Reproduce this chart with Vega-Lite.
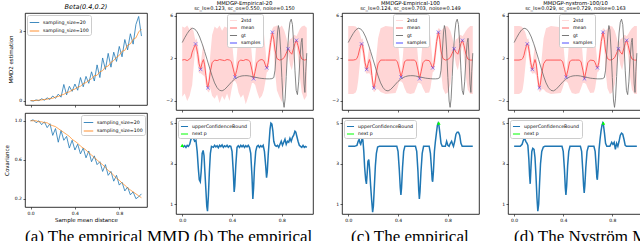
{
"$schema": "https://vega.github.io/schema/vega-lite/v6.json",
"padding": {"left": 3, "top": 0, "right": 0, "bottom": 0},
"background": "white",
"config": {
  "font": "DejaVu Sans",
  "view": {"stroke": "#000", "strokeWidth": 0.8},
  "axis": {"labelFont": "DejaVu Sans", "labelFontSize": 4.5, "titleFont": "DejaVu Sans", "titleFontSize": 5.5, "titleFontWeight": "normal", "tickSize": 2, "tickColor": "#000", "tickWidth": 0.6, "labelColor": "#000", "titleColor": "#000", "domain": false, "grid": false, "labelPadding": 1.5, "titlePadding": 3, "labelOverlap": false, "labelFlush": false, "labelSeparation": -40, "labelBound": false},
  "legend": {"labelFont": "DejaVu Sans", "labelFontSize": 4.7, "labelColor": "#000", "fillColor": "#fff", "strokeColor": "#cccccc", "padding": 2, "cornerRadius": 2, "rowPadding": 0.5, "symbolSize": 50, "labelLimit": 300, "symbolStrokeWidth": 1, "labelOffset": 3},
  "title": {"font": "DejaVu Sans", "fontSize": 5.3, "fontWeight": "normal", "color": "#000", "subtitleFont": "DejaVu Sans", "subtitleFontSize": 5.0, "subtitleColor": "#000", "subtitlePadding": 0.5, "offset": 1.5}
},
"datasets": {
  "mmd": [
    {"x":0.000,"a":0.00,"b":0.00},{"x":0.025,"a":-0.02,"b":0.00},{"x":0.050,"a":0.03,"b":0.01},{"x":0.075,"a":0.00,"b":0.02},
    {"x":0.100,"a":0.08,"b":0.03},{"x":0.125,"a":0.02,"b":0.05},{"x":0.150,"a":0.12,"b":0.06},{"x":0.175,"a":0.05,"b":0.10},
    {"x":0.200,"a":0.20,"b":0.10},{"x":0.225,"a":0.10,"b":0.16},{"x":0.250,"a":0.28,"b":0.18},{"x":0.275,"a":0.15,"b":0.24},
    {"x":0.300,"a":0.70,"b":0.27},{"x":0.325,"a":0.25,"b":0.35},{"x":0.350,"a":0.62,"b":0.38},{"x":0.375,"a":0.40,"b":0.46},
    {"x":0.400,"a":0.72,"b":0.50},{"x":0.425,"a":0.45,"b":0.58},{"x":0.450,"a":1.00,"b":0.62},{"x":0.475,"a":0.60,"b":0.74},
    {"x":0.500,"a":1.05,"b":0.78},{"x":0.525,"a":0.75,"b":0.88},{"x":0.550,"a":1.25,"b":0.94},{"x":0.575,"a":0.85,"b":1.08},
    {"x":0.600,"a":1.55,"b":1.10},{"x":0.625,"a":1.00,"b":1.25},{"x":0.650,"a":1.85,"b":1.30},{"x":0.675,"a":1.35,"b":1.46},
    {"x":0.700,"a":2.05,"b":1.50},{"x":0.725,"a":1.45,"b":1.66},{"x":0.750,"a":2.10,"b":1.74},{"x":0.775,"a":1.70,"b":1.88},
    {"x":0.800,"a":2.35,"b":1.96},{"x":0.825,"a":1.90,"b":2.14},{"x":0.850,"a":2.65,"b":2.18},{"x":0.875,"a":2.20,"b":2.40},
    {"x":0.900,"a":2.90,"b":2.46},{"x":0.925,"a":2.45,"b":2.66},{"x":0.950,"a":3.30,"b":2.72},{"x":0.975,"a":3.65,"b":2.98},
    {"x":1.000,"a":2.80,"b":3.10}
  ],
  "cov": [
    {"x":0.000,"a":1.00,"b":1.00},{"x":0.025,"a":1.01,"b":1.00},{"x":0.050,"a":0.98,"b":1.00},{"x":0.075,"a":1.00,"b":0.99},
    {"x":0.100,"a":0.96,"b":0.99},{"x":0.125,"a":0.99,"b":0.98},{"x":0.150,"a":0.93,"b":0.98},{"x":0.175,"a":0.97,"b":0.96},
    {"x":0.200,"a":0.85,"b":0.95},{"x":0.225,"a":0.92,"b":0.94},{"x":0.250,"a":0.78,"b":0.92},{"x":0.275,"a":0.90,"b":0.90},
    {"x":0.300,"a":0.80,"b":0.88},{"x":0.325,"a":0.84,"b":0.86},{"x":0.350,"a":0.72,"b":0.84},{"x":0.375,"a":0.80,"b":0.81},
    {"x":0.400,"a":0.70,"b":0.79},{"x":0.425,"a":0.76,"b":0.77},{"x":0.450,"a":0.66,"b":0.74},{"x":0.475,"a":0.72,"b":0.72},
    {"x":0.500,"a":0.62,"b":0.70},{"x":0.525,"a":0.69,"b":0.67},{"x":0.550,"a":0.58,"b":0.65},{"x":0.575,"a":0.64,"b":0.62},
    {"x":0.600,"a":0.55,"b":0.60},{"x":0.625,"a":0.58,"b":0.57},{"x":0.650,"a":0.48,"b":0.55},{"x":0.675,"a":0.55,"b":0.52},
    {"x":0.700,"a":0.44,"b":0.49},{"x":0.725,"a":0.48,"b":0.47},{"x":0.750,"a":0.38,"b":0.44},{"x":0.775,"a":0.44,"b":0.41},
    {"x":0.800,"a":0.34,"b":0.39},{"x":0.825,"a":0.37,"b":0.36},{"x":0.850,"a":0.28,"b":0.34},{"x":0.875,"a":0.32,"b":0.31},
    {"x":0.900,"a":0.24,"b":0.29},{"x":0.925,"a":0.27,"b":0.27},{"x":0.950,"a":0.20,"b":0.25},{"x":0.975,"a":0.22,"b":0.23},
    {"x":1.000,"a":0.25,"b":0.21}
  ],
  "gt": [
    {"x":0,"y":3.5},{"x":0.02,"y":3.95},{"x":0.04,"y":4.35},{"x":0.06,"y":4.68},{"x":0.08,"y":4.85},{"x":0.10,"y":4.78},
    {"x":0.12,"y":4.5},{"x":0.14,"y":4.02},{"x":0.16,"y":3.38},{"x":0.18,"y":2.65},{"x":0.20,"y":1.88},{"x":0.22,"y":1.1},
    {"x":0.24,"y":0.35},{"x":0.26,"y":-0.3},{"x":0.28,"y":-0.75},{"x":0.30,"y":-1.0},{"x":0.32,"y":-1.05},{"x":0.34,"y":-0.92},
    {"x":0.36,"y":-0.68},{"x":0.38,"y":-0.42},{"x":0.40,"y":-0.16},{"x":0.42,"y":0.05},{"x":0.44,"y":0.2},{"x":0.46,"y":0.3},
    {"x":0.48,"y":0.36},{"x":0.50,"y":0.38},{"x":0.52,"y":0.38},{"x":0.54,"y":0.35},{"x":0.56,"y":0.3},{"x":0.58,"y":0.25},
    {"x":0.60,"y":0.2},{"x":0.62,"y":0.15},{"x":0.64,"y":0.12},{"x":0.66,"y":0.1},{"x":0.68,"y":0.08},{"x":0.70,"y":0.08},
    {"x":0.72,"y":0.1},{"x":0.735,"y":0.2},{"x":0.745,"y":0.9},{"x":0.755,"y":2.6},{"x":0.765,"y":4.4},{"x":0.772,"y":5.1},
    {"x":0.78,"y":4.7},{"x":0.79,"y":2.8},{"x":0.80,"y":0.2},{"x":0.81,"y":-2.0},{"x":0.818,"y":-2.6},{"x":0.826,"y":-1.8},
    {"x":0.835,"y":0.3},{"x":0.845,"y":2.6},{"x":0.855,"y":4.4},{"x":0.865,"y":5.4},{"x":0.875,"y":5.7},{"x":0.885,"y":5.2},
    {"x":0.895,"y":3.4},{"x":0.905,"y":0.9},{"x":0.915,"y":-1.0},{"x":0.925,"y":-1.4},{"x":0.935,"y":-0.2},{"x":0.945,"y":2.0},
    {"x":0.955,"y":3.5},{"x":0.962,"y":3.9},{"x":0.97,"y":2.2},{"x":0.978,"y":-0.4},{"x":0.985,"y":-1.2},{"x":0.992,"y":0.8},
    {"x":1.0,"y":2.5}
  ],
  "samples": [
    {"x":0.107,"y":3.37},{"x":0.148,"y":0.97},{"x":0.206,"y":-0.76},{"x":0.424,"y":0.25},{"x":0.573,"y":0.09},
    {"x":0.679,"y":1.12},{"x":0.724,"y":4.47},{"x":0.85,"y":2.92},{"x":0.917,"y":3.71}
  ],
  "gp_b": [
    {"x":0.00,"mean":1.85,"lo":-1.6,"hi":5.0},{"x":0.02,"mean":1.9,"lo":-1.3,"hi":4.9},{"x":0.04,"mean":1.8,"lo":-2.0,"hi":5.1},
    {"x":0.06,"mean":1.95,"lo":-1.5,"hi":4.7},{"x":0.07,"mean":2.1,"lo":-1.0,"hi":5.0},{"x":0.08,"mean":2.6,"lo":-0.5,"hi":4.8},
    {"x":0.09,"mean":2.9,"lo":1.0,"hi":4.6},{"x":0.10,"mean":3.2,"lo":2.3,"hi":4.0},{"x":0.107,"mean":3.3,"lo":2.9,"hi":3.7},
    {"x":0.115,"mean":3.0,"lo":2.2,"hi":3.9},{"x":0.125,"mean":2.4,"lo":1.3,"hi":3.4},{"x":0.135,"mean":1.5,"lo":0.6,"hi":2.4},
    {"x":0.148,"mean":1.0,"lo":0.6,"hi":1.4},{"x":0.16,"mean":1.6,"lo":0.5,"hi":2.6},{"x":0.17,"mean":1.9,"lo":0.4,"hi":3.3},
    {"x":0.18,"mean":1.4,"lo":0.3,"hi":2.5},{"x":0.19,"mean":0.4,"lo":-0.5,"hi":1.2},{"x":0.20,"mean":-0.5,"lo":-1.0,"hi":0.1},
    {"x":0.206,"mean":-0.7,"lo":-1.1,"hi":-0.3},{"x":0.215,"mean":-0.2,"lo":-1.2,"hi":0.7},{"x":0.225,"mean":0.7,"lo":-0.8,"hi":2.3},
    {"x":0.24,"mean":1.6,"lo":-1.5,"hi":4.2},{"x":0.26,"mean":1.85,"lo":-1.8,"hi":5.0},{"x":0.28,"mean":1.8,"lo":-1.4,"hi":4.8},
    {"x":0.30,"mean":1.9,"lo":-2.2,"hi":5.1},{"x":0.32,"mean":1.85,"lo":-1.5,"hi":4.6},{"x":0.34,"mean":1.8,"lo":-1.9,"hi":5.0},
    {"x":0.36,"mean":1.9,"lo":-1.3,"hi":4.9},{"x":0.38,"mean":1.85,"lo":-2.0,"hi":5.1},{"x":0.395,"mean":1.7,"lo":-1.0,"hi":4.2},
    {"x":0.41,"mean":1.0,"lo":-0.2,"hi":2.3},{"x":0.424,"mean":0.3,"lo":-0.1,"hi":0.7},{"x":0.438,"mean":0.9,"lo":-0.4,"hi":2.2},
    {"x":0.452,"mean":1.7,"lo":-1.2,"hi":4.4},{"x":0.47,"mean":1.85,"lo":-1.7,"hi":5.0},{"x":0.49,"mean":1.8,"lo":-1.4,"hi":4.8},
    {"x":0.51,"mean":1.9,"lo":-2.3,"hi":5.1},{"x":0.53,"mean":1.85,"lo":-1.6,"hi":4.9},{"x":0.545,"mean":1.7,"lo":-1.0,"hi":4.2},
    {"x":0.56,"mean":0.9,"lo":-0.3,"hi":2.2},{"x":0.573,"mean":0.1,"lo":-0.3,"hi":0.5},{"x":0.586,"mean":0.8,"lo":-0.5,"hi":2.0},
    {"x":0.60,"mean":1.6,"lo":-1.1,"hi":4.3},{"x":0.62,"mean":1.85,"lo":-1.8,"hi":5.0},{"x":0.64,"mean":1.9,"lo":-1.5,"hi":4.8},
    {"x":0.655,"mean":1.8,"lo":-1.0,"hi":4.5},{"x":0.667,"mean":1.4,"lo":-0.2,"hi":3.0},{"x":0.679,"mean":1.1,"lo":0.7,"hi":1.5},
    {"x":0.69,"mean":1.6,"lo":0.8,"hi":2.5},{"x":0.70,"mean":2.6,"lo":1.6,"hi":3.6},{"x":0.71,"mean":3.5,"lo":2.6,"hi":4.4},
    {"x":0.724,"mean":4.4,"lo":4.0,"hi":4.8},{"x":0.735,"mean":3.8,"lo":2.6,"hi":5.0},{"x":0.745,"mean":2.8,"lo":0.8,"hi":5.0},
    {"x":0.76,"mean":2.0,"lo":-1.0,"hi":5.1},{"x":0.78,"mean":1.85,"lo":-1.6,"hi":4.9},{"x":0.80,"mean":1.9,"lo":-2.1,"hi":5.1},
    {"x":0.82,"mean":2.1,"lo":-0.6,"hi":4.6},{"x":0.835,"mean":2.5,"lo":1.0,"hi":4.0},{"x":0.85,"mean":2.9,"lo":2.5,"hi":3.3},
    {"x":0.865,"mean":2.6,"lo":1.4,"hi":3.8},{"x":0.88,"mean":2.4,"lo":0.9,"hi":3.9},{"x":0.895,"mean":3.0,"lo":1.8,"hi":4.2},
    {"x":0.905,"mean":3.4,"lo":2.6,"hi":4.2},{"x":0.917,"mean":3.7,"lo":3.3,"hi":4.1},{"x":0.93,"mean":3.2,"lo":2.1,"hi":4.4},
    {"x":0.945,"mean":2.4,"lo":0.2,"hi":4.8},{"x":0.96,"mean":1.95,"lo":-1.2,"hi":5.0},{"x":0.98,"mean":1.85,"lo":-1.9,"hi":5.1},
    {"x":1.0,"mean":1.9,"lo":-1.5,"hi":4.9}
  ],
  "gp_c": [
    {"x":0,"mean":1.85,"lo":-1.35,"hi":5.05},{"x":0.04,"mean":1.85,"lo":-1.35,"hi":5.05},{"x":0.06,"mean":1.9,"lo":-1.2,"hi":5.0},
    {"x":0.07,"mean":2.0,"lo":-0.9,"hi":4.9},{"x":0.08,"mean":2.3,"lo":-0.1,"hi":4.7},{"x":0.09,"mean":2.8,"lo":1.1,"hi":4.5},
    {"x":0.10,"mean":3.2,"lo":2.3,"hi":4.1},{"x":0.107,"mean":3.38,"lo":2.98,"hi":3.78},{"x":0.115,"mean":3.2,"lo":2.5,"hi":3.9},
    {"x":0.125,"mean":2.5,"lo":1.6,"hi":3.4},{"x":0.135,"mean":1.6,"lo":0.8,"hi":2.4},{"x":0.148,"mean":0.97,"lo":0.57,"hi":1.37},
    {"x":0.16,"mean":1.5,"lo":0.6,"hi":2.4},{"x":0.17,"mean":1.9,"lo":0.6,"hi":3.2},{"x":0.18,"mean":1.5,"lo":0.4,"hi":2.6},
    {"x":0.19,"mean":0.4,"lo":-0.4,"hi":1.2},{"x":0.20,"mean":-0.5,"lo":-1.0,"hi":0.0},{"x":0.206,"mean":-0.76,"lo":-1.16,"hi":-0.36},
    {"x":0.215,"mean":-0.3,"lo":-1.1,"hi":0.5},{"x":0.225,"mean":0.6,"lo":-0.9,"hi":2.1},{"x":0.24,"mean":1.5,"lo":-0.9,"hi":3.9},
    {"x":0.26,"mean":1.85,"lo":-1.15,"hi":4.85},{"x":0.30,"mean":1.85,"lo":-1.35,"hi":5.05},{"x":0.38,"mean":1.85,"lo":-1.25,"hi":4.95},
    {"x":0.395,"mean":1.7,"lo":-0.8,"hi":4.2},{"x":0.41,"mean":1.0,"lo":-0.2,"hi":2.2},{"x":0.424,"mean":0.26,"lo":-0.14,"hi":0.66},
    {"x":0.438,"mean":0.9,"lo":-0.3,"hi":2.1},{"x":0.452,"mean":1.7,"lo":-0.8,"hi":4.2},{"x":0.47,"mean":1.85,"lo":-1.25,"hi":4.95},
    {"x":0.50,"mean":1.85,"lo":-1.35,"hi":5.05},{"x":0.53,"mean":1.85,"lo":-1.25,"hi":4.95},{"x":0.545,"mean":1.7,"lo":-0.8,"hi":4.2},
    {"x":0.56,"mean":0.9,"lo":-0.3,"hi":2.1},{"x":0.573,"mean":0.1,"lo":-0.3,"hi":0.5},{"x":0.586,"mean":0.8,"lo":-0.4,"hi":2.0},
    {"x":0.60,"mean":1.6,"lo":-0.8,"hi":4.0},{"x":0.62,"mean":1.85,"lo":-1.25,"hi":4.95},{"x":0.65,"mean":1.8,"lo":-1.2,"hi":4.8},
    {"x":0.66,"mean":1.6,"lo":-0.8,"hi":4.0},{"x":0.67,"mean":1.3,"lo":0.0,"hi":2.6},{"x":0.679,"mean":1.12,"lo":0.72,"hi":1.52},
    {"x":0.69,"mean":1.6,"lo":0.8,"hi":2.4},{"x":0.70,"mean":2.6,"lo":1.7,"hi":3.5},{"x":0.71,"mean":3.6,"lo":2.8,"hi":4.4},
    {"x":0.724,"mean":4.45,"lo":4.05,"hi":4.85},{"x":0.735,"mean":3.8,"lo":2.8,"hi":4.8},{"x":0.745,"mean":2.7,"lo":0.8,"hi":4.6},
    {"x":0.76,"mean":2.0,"lo":-0.8,"hi":4.8},{"x":0.78,"mean":1.85,"lo":-1.35,"hi":5.05},{"x":0.80,"mean":1.9,"lo":-1.2,"hi":5.0},
    {"x":0.82,"mean":2.1,"lo":-0.4,"hi":4.6},{"x":0.835,"mean":2.5,"lo":1.0,"hi":4.0},{"x":0.85,"mean":2.9,"lo":2.5,"hi":3.3},
    {"x":0.865,"mean":2.6,"lo":1.4,"hi":3.8},{"x":0.88,"mean":2.4,"lo":0.9,"hi":3.9},{"x":0.895,"mean":3.0,"lo":1.8,"hi":4.2},
    {"x":0.905,"mean":3.4,"lo":2.6,"hi":4.2},{"x":0.917,"mean":3.7,"lo":3.3,"hi":4.1},{"x":0.93,"mean":3.2,"lo":2.1,"hi":4.3},
    {"x":0.945,"mean":2.4,"lo":0.2,"hi":4.6},{"x":0.96,"mean":1.95,"lo":-0.95,"hi":4.85},{"x":0.98,"mean":1.85,"lo":-1.35,"hi":5.05},
    {"x":1.0,"mean":1.85,"lo":-1.35,"hi":5.05}
  ],
  "ucb_b": [
    {"x":0.00,"v":3.9},{"x":0.01,"v":3.82},{"x":0.02,"v":3.88},{"x":0.03,"v":3.8},{"x":0.04,"v":3.9},{"x":0.05,"v":3.85},
    {"x":0.06,"v":3.95},{"x":0.07,"v":4.2},{"x":0.08,"v":4.3},{"x":0.09,"v":4.25},{"x":0.10,"v":4.1},{"x":0.11,"v":4.15},
    {"x":0.12,"v":3.6},{"x":0.13,"v":2.7},{"x":0.137,"v":2.2},{"x":0.145,"v":2.1},{"x":0.152,"v":2.6},{"x":0.16,"v":3.5},
    {"x":0.168,"v":3.65},{"x":0.175,"v":3.4},{"x":0.182,"v":2.6},{"x":0.19,"v":1.7},{"x":0.197,"v":0.9},{"x":0.203,"v":0.65},
    {"x":0.21,"v":1.4},{"x":0.218,"v":2.6},{"x":0.226,"v":3.5},{"x":0.235,"v":3.85},{"x":0.25,"v":3.8},{"x":0.26,"v":3.9},
    {"x":0.27,"v":3.82},{"x":0.28,"v":3.88},{"x":0.29,"v":3.78},{"x":0.30,"v":3.9},{"x":0.31,"v":3.84},{"x":0.32,"v":3.92},
    {"x":0.33,"v":3.8},{"x":0.34,"v":3.88},{"x":0.35,"v":3.83},{"x":0.36,"v":3.9},{"x":0.37,"v":3.8},{"x":0.38,"v":3.87},
    {"x":0.39,"v":3.85},{"x":0.40,"v":3.6},{"x":0.41,"v":2.6},{"x":0.417,"v":1.6},{"x":0.422,"v":1.9},{"x":0.43,"v":2.9},
    {"x":0.44,"v":3.8},{"x":0.45,"v":3.88},{"x":0.46,"v":3.8},{"x":0.47,"v":3.9},{"x":0.48,"v":3.83},{"x":0.49,"v":3.9},
    {"x":0.50,"v":3.8},{"x":0.51,"v":3.88},{"x":0.52,"v":3.82},{"x":0.53,"v":3.9},{"x":0.54,"v":3.8},{"x":0.55,"v":3.5},
    {"x":0.56,"v":2.4},{"x":0.567,"v":1.25},{"x":0.573,"v":1.8},{"x":0.58,"v":2.8},{"x":0.59,"v":3.6},{"x":0.60,"v":3.85},
    {"x":0.61,"v":3.9},{"x":0.62,"v":3.8},{"x":0.63,"v":3.88},{"x":0.64,"v":3.82},{"x":0.65,"v":3.9},{"x":0.66,"v":3.6},
    {"x":0.67,"v":2.9},{"x":0.677,"v":2.3},{"x":0.683,"v":2.6},{"x":0.69,"v":3.4},{"x":0.698,"v":4.1},{"x":0.705,"v":4.7},
    {"x":0.712,"v":5.0},{"x":0.72,"v":4.95},{"x":0.728,"v":4.6},{"x":0.735,"v":4.1},{"x":0.745,"v":3.9},{"x":0.755,"v":3.85},
    {"x":0.765,"v":3.9},{"x":0.775,"v":3.8},{"x":0.785,"v":3.95},{"x":0.795,"v":4.1},{"x":0.805,"v":3.9},{"x":0.815,"v":4.05},
    {"x":0.825,"v":4.2},{"x":0.835,"v":3.95},{"x":0.845,"v":4.1},{"x":0.855,"v":4.05},{"x":0.865,"v":4.25},{"x":0.875,"v":4.1},
    {"x":0.885,"v":4.3},{"x":0.895,"v":4.4},{"x":0.905,"v":4.6},{"x":0.912,"v":4.55},{"x":0.92,"v":4.35},{"x":0.93,"v":4.1},
    {"x":0.94,"v":3.9},{"x":0.95,"v":3.85},{"x":0.96,"v":3.8},{"x":0.97,"v":3.9},{"x":0.98,"v":3.8},{"x":0.99,"v":3.85},
    {"x":1.00,"v":3.8}
  ],
  "ucb_c": [
    {"x":0.00,"v":3.85},{"x":0.05,"v":3.85},{"x":0.07,"v":3.9},{"x":0.08,"v":4.1},{"x":0.088,"v":4.2},{"x":0.095,"v":4.0},
    {"x":0.10,"v":3.95},{"x":0.107,"v":4.1},{"x":0.112,"v":4.3},{"x":0.118,"v":4.15},{"x":0.125,"v":3.6},{"x":0.132,"v":2.8},
    {"x":0.14,"v":2.2},{"x":0.146,"v":2.0},{"x":0.152,"v":2.5},{"x":0.158,"v":3.1},{"x":0.165,"v":3.2},{"x":0.172,"v":2.7},
    {"x":0.18,"v":1.9},{"x":0.188,"v":1.2},{"x":0.196,"v":0.6},{"x":0.202,"v":0.9},{"x":0.21,"v":1.9},{"x":0.218,"v":2.9},
    {"x":0.226,"v":3.5},{"x":0.236,"v":3.82},{"x":0.25,"v":3.85},{"x":0.39,"v":3.85},{"x":0.40,"v":3.6},{"x":0.41,"v":2.7},
    {"x":0.418,"v":1.8},{"x":0.423,"v":1.45},{"x":0.428,"v":1.8},{"x":0.436,"v":2.8},{"x":0.445,"v":3.6},{"x":0.455,"v":3.85},
    {"x":0.54,"v":3.85},{"x":0.55,"v":3.6},{"x":0.56,"v":2.6},{"x":0.566,"v":1.7},{"x":0.571,"v":1.25},{"x":0.576,"v":1.6},
    {"x":0.584,"v":2.6},{"x":0.594,"v":3.5},{"x":0.605,"v":3.85},{"x":0.65,"v":3.85},{"x":0.66,"v":3.5},{"x":0.668,"v":2.8},
    {"x":0.674,"v":2.2},{"x":0.678,"v":2.1},{"x":0.684,"v":2.6},{"x":0.692,"v":3.6},{"x":0.70,"v":4.1},{"x":0.708,"v":4.5},
    {"x":0.716,"v":4.9},{"x":0.722,"v":5.0},{"x":0.728,"v":4.9},{"x":0.736,"v":4.5},{"x":0.745,"v":4.0},{"x":0.755,"v":3.85},
    {"x":0.78,"v":3.85},{"x":0.79,"v":4.1},{"x":0.80,"v":3.9},{"x":0.81,"v":3.85},{"x":0.82,"v":4.0},{"x":0.83,"v":4.1},
    {"x":0.838,"v":3.95},{"x":0.845,"v":3.85},{"x":0.855,"v":4.1},{"x":0.865,"v":4.45},{"x":0.875,"v":4.55},{"x":0.885,"v":4.55},
    {"x":0.895,"v":4.4},{"x":0.905,"v":4.0},{"x":0.915,"v":3.85},{"x":1.0,"v":3.85}
  ],
  "ucb_d": [
    {"x":0.00,"v":3.85},{"x":0.05,"v":3.85},{"x":0.065,"v":3.95},{"x":0.075,"v":4.15},{"x":0.085,"v":4.25},{"x":0.095,"v":4.1},
    {"x":0.105,"v":4.0},{"x":0.112,"v":3.9},{"x":0.12,"v":3.2},{"x":0.126,"v":2.4},{"x":0.131,"v":2.0},{"x":0.137,"v":2.8},
    {"x":0.144,"v":3.6},{"x":0.152,"v":3.75},{"x":0.162,"v":3.7},{"x":0.17,"v":3.3},{"x":0.178,"v":2.4},{"x":0.186,"v":1.3},
    {"x":0.193,"v":0.65},{"x":0.2,"v":1.0},{"x":0.207,"v":2.0},{"x":0.215,"v":3.0},{"x":0.225,"v":3.6},{"x":0.238,"v":3.82},
    {"x":0.25,"v":3.85},{"x":0.39,"v":3.85},{"x":0.40,"v":3.6},{"x":0.41,"v":2.7},{"x":0.417,"v":1.8},{"x":0.422,"v":1.45},
    {"x":0.428,"v":1.9},{"x":0.436,"v":2.9},{"x":0.445,"v":3.6},{"x":0.455,"v":3.85},{"x":0.54,"v":3.85},{"x":0.55,"v":3.6},
    {"x":0.56,"v":2.6},{"x":0.566,"v":1.9},{"x":0.571,"v":1.55},{"x":0.576,"v":1.9},{"x":0.584,"v":2.8},{"x":0.594,"v":3.6},
    {"x":0.605,"v":3.85},{"x":0.65,"v":3.85},{"x":0.66,"v":3.6},{"x":0.668,"v":2.9},{"x":0.674,"v":2.3},{"x":0.678,"v":2.2},
    {"x":0.684,"v":2.7},{"x":0.692,"v":3.7},{"x":0.70,"v":4.2},{"x":0.708,"v":4.6},{"x":0.716,"v":4.9},{"x":0.722,"v":5.0},
    {"x":0.728,"v":4.9},{"x":0.736,"v":4.5},{"x":0.745,"v":4.0},{"x":0.755,"v":3.85},{"x":0.78,"v":3.85},{"x":0.795,"v":4.05},
    {"x":0.805,"v":3.95},{"x":0.815,"v":4.05},{"x":0.825,"v":3.7},{"x":0.835,"v":4.0},{"x":0.845,"v":3.85},{"x":0.855,"v":4.1},
    {"x":0.865,"v":4.4},{"x":0.875,"v":4.5},{"x":0.885,"v":4.45},{"x":0.895,"v":4.2},{"x":0.905,"v":3.9},{"x":0.915,"v":3.85},
    {"x":1.0,"v":3.85}
  ],
  "captions": [
    {"k": "a", "cap": "(a) The empirical MMD (b) The empirical"},
    {"k": "c", "cap": "(c) The empirical"},
    {"k": "d", "cap": "(d) The Nyström MMD"}
  ]
},
"vconcat": [
 {
 "hconcat": [
  {
    "vconcat": [
      {
        "width": 122, "height": 92,
        "title": {"text": "Beta(0.4,0.2)", "fontStyle": "italic", "fontSize": 6.5, "offset": 3},
        "data": {"name": "mmd"},
        "layer": [
          {"mark": {"type": "line", "strokeWidth": 0.8, "clip": true},
           "encoding": {
             "x": {"field": "x", "type": "quantitative", "title": null, "scale": {"domain": [-0.05, 1.05], "nice": false, "zero": false}, "axis": {"values": [0, 0.2, 0.4, 0.6, 0.8, 1.0], "labels": false}},
             "y": {"field": "a", "type": "quantitative", "title": "MMD2 estimation", "scale": {"domain": [-0.19, 3.8], "nice": false, "zero": false}, "axis": {"values": [0, 1, 2, 3], "titlePadding": 5, "labelOverlap": false}},
             "color": {"datum": "sampling_size=20", "type": "nominal", "scale": {"domain": ["sampling_size=20", "sampling_size=100"], "range": ["#1f77b4", "#ff7f0e"]},
                       "legend": {"orient": "top-left", "offset": 2, "title": null, "symbolType": "stroke", "symbolSize": 90}}
           }},
          {"mark": {"type": "line", "strokeWidth": 0.8, "clip": true, "opacity": 0.85},
           "encoding": {
             "x": {"field": "x", "type": "quantitative", "title": null},
             "y": {"field": "b", "type": "quantitative", "title": "MMD2 estimation"},
             "color": {"datum": "sampling_size=100", "type": "nominal"}
           }}
        ]
      },
      {
        "width": 122, "height": 94,
        "data": {"name": "cov"},
        "layer": [
          {"mark": {"type": "line", "strokeWidth": 0.8, "clip": true},
           "encoding": {
             "x": {"field": "x", "type": "quantitative", "title": "Sample mean distance", "scale": {"domain": [-0.05, 1.05], "nice": false, "zero": false}, "axis": {"values": [0, 0.2, 0.4, 0.6, 0.8, 1.0], "format": ".1f", "titlePadding": 2, "labelOverlap": false, "labelFlush": false, "labelSeparation": -40}},
             "y": {"field": "a", "type": "quantitative", "title": "Covariance", "scale": {"domain": [0.115, 1.08], "nice": false, "zero": false}, "axis": {"values": [0.2, 0.4, 0.6, 0.8, 1.0], "format": ".1f", "titlePadding": 5, "labelOverlap": false}},
             "color": {"datum": "sampling_size=20", "type": "nominal", "scale": {"domain": ["sampling_size=20", "sampling_size=100"], "range": ["#1f77b4", "#ff7f0e"]},
                       "legend": {"orient": "top-right", "offset": 2, "title": null, "symbolType": "stroke", "symbolSize": 90}}
           }},
          {"mark": {"type": "line", "strokeWidth": 0.8, "clip": true, "opacity": 0.85},
           "encoding": {
             "x": {"field": "x", "type": "quantitative", "title": "Sample mean distance"},
             "y": {"field": "b", "type": "quantitative", "title": "Covariance"},
             "color": {"datum": "sampling_size=100", "type": "nominal"}
           }}
        ]
      }
    ],
    "spacing": 8, "bounds": "flush",
    "resolve": {"scale": {"color": "independent", "x": "independent", "y": "independent"}, "legend": {"color": "independent"}}
  },
  {
    "vconcat": [
      {
        "width": 137, "height": 97,
        "title": {"text": "MMDGP-Empirical-20", "subtitle": "sc_ls=0.123, sc_os=0.550, noise=0.150"},
        "layer": [
          {"data": {"name": "gp_b"}, "mark": {"type": "area", "clip": true},
           "encoding": {
             "x": {"field": "x", "type": "quantitative", "title": null, "scale": {"domain": [-0.05, 1.05], "nice": false, "zero": false}, "axis": {"values": [0, 0.2, 0.4, 0.6, 0.8, 1.0], "labels": false}},
             "y": {"field": "lo", "type": "quantitative", "title": null, "scale": {"domain": [-2.85, 6.28], "nice": false, "zero": false}, "axis": {"values": [-2, 0, 2, 4, 6], "labelOverlap": false}},
             "y2": {"field": "hi"},
             "color": {"datum": "2std", "type": "nominal", "scale": {"domain": ["2std", "mean", "gt", "samples"], "range": ["#ffd6d6", "#ff5a5a", "#6a6a6a", "#3c3cff"]},
               "legend": {"orient": "none", "legendX": 51, "legendY": 1, "title": null, "symbolType": "stroke"}}
           }},
          {"data": {"name": "gp_b"}, "mark": {"type": "line", "strokeWidth": 1, "clip": true},
           "encoding": {"x": {"field": "x", "type": "quantitative", "title": null}, "y": {"field": "mean", "type": "quantitative", "title": null}, "color": {"datum": "mean", "type": "nominal"}}},
          {"data": {"name": "gt"}, "mark": {"type": "line", "strokeWidth": 0.9, "clip": true, "opacity": 0.9},
           "encoding": {"x": {"field": "x", "type": "quantitative", "title": null}, "y": {"field": "y", "type": "quantitative", "title": null}, "color": {"datum": "gt", "type": "nominal"}}},
          {"data": {"name": "samples"}, "mark": {"type": "point", "shape": "M-1,-1L1,1M-1,1L1,-1", "filled": false, "size": 12, "strokeWidth": 0.8},
           "encoding": {"x": {"field": "x", "type": "quantitative", "title": null}, "y": {"field": "y", "type": "quantitative", "title": null}, "color": {"datum": "samples", "type": "nominal"}}}
        ]
      },
      {
        "width": 137, "height": 96,
        "layer": [
          {"data": {"name": "ucb_b"}, "mark": {"type": "line", "strokeWidth": 1.5, "clip": true},
           "encoding": {
             "x": {"field": "x", "type": "quantitative", "title": null, "scale": {"domain": [-0.05, 1.05], "nice": false, "zero": false}, "axis": {"values": [0, 0.2, 0.4, 0.6, 0.8, 1.0], "format": ".1f", "labelOverlap": false, "labelFlush": false, "labelSeparation": -40}},
             "y": {"field": "v", "type": "quantitative", "title": null, "scale": {"domain": [0.51, 5.25], "nice": false, "zero": false}, "axis": {"values": [1, 2, 3, 4, 5], "labelOverlap": false}},
             "color": {"datum": "upperConfidenceBound", "type": "nominal", "scale": {"domain": ["upperConfidenceBound", "next p"], "range": ["#1f77b4", "#00ff00"]},
               "legend": {"orient": "top-left", "offset": 2, "title": null, "symbolType": "stroke"}}
           }},
          {"data": {"values": [{"x": 0.0, "v": 3.9}]}, "mark": {"type": "point", "shape": "triangle-up", "filled": true, "size": 14, "opacity": 1},
           "encoding": {"x": {"field": "x", "type": "quantitative", "title": null}, "y": {"field": "v", "type": "quantitative", "title": null}, "color": {"datum": "next p", "type": "nominal"}}}
        ]
      }
    ],
    "spacing": 8, "bounds": "flush",
    "resolve": {"scale": {"color": "independent", "x": "independent", "y": "independent"}, "legend": {"color": "independent"}}
  },
  {
    "vconcat": [
      {
        "width": 137, "height": 97,
        "title": {"text": "MMDGP-Empirical-100", "subtitle": "sc_ls=0.124, sc_os=0.703, noise=0.149"},
        "layer": [
          {"data": {"name": "gp_c"}, "mark": {"type": "area", "clip": true},
           "encoding": {
             "x": {"field": "x", "type": "quantitative", "title": null, "scale": {"domain": [-0.05, 1.05], "nice": false, "zero": false}, "axis": {"values": [0, 0.2, 0.4, 0.6, 0.8, 1.0], "labels": false}},
             "y": {"field": "lo", "type": "quantitative", "title": null, "scale": {"domain": [-2.85, 6.28], "nice": false, "zero": false}, "axis": {"values": [-2, 0, 2, 4, 6], "labelOverlap": false}},
             "y2": {"field": "hi"},
             "color": {"datum": "2std", "type": "nominal", "scale": {"domain": ["2std", "mean", "gt", "samples"], "range": ["#ffd6d6", "#ff5a5a", "#6a6a6a", "#3c3cff"]},
               "legend": {"orient": "none", "legendX": 51, "legendY": 1, "title": null, "symbolType": "stroke"}}
           }},
          {"data": {"name": "gp_c"}, "mark": {"type": "line", "strokeWidth": 1, "clip": true},
           "encoding": {"x": {"field": "x", "type": "quantitative", "title": null}, "y": {"field": "mean", "type": "quantitative", "title": null}, "color": {"datum": "mean", "type": "nominal"}}},
          {"data": {"name": "gt"}, "mark": {"type": "line", "strokeWidth": 0.9, "clip": true, "opacity": 0.9},
           "encoding": {"x": {"field": "x", "type": "quantitative", "title": null}, "y": {"field": "y", "type": "quantitative", "title": null}, "color": {"datum": "gt", "type": "nominal"}}},
          {"data": {"name": "samples"}, "mark": {"type": "point", "shape": "M-1,-1L1,1M-1,1L1,-1", "filled": false, "size": 12, "strokeWidth": 0.8},
           "encoding": {"x": {"field": "x", "type": "quantitative", "title": null}, "y": {"field": "y", "type": "quantitative", "title": null}, "color": {"datum": "samples", "type": "nominal"}}}
        ]
      },
      {
        "width": 137, "height": 96,
        "layer": [
          {"data": {"name": "ucb_c"}, "mark": {"type": "line", "strokeWidth": 1.5, "clip": true},
           "encoding": {
             "x": {"field": "x", "type": "quantitative", "title": null, "scale": {"domain": [-0.05, 1.05], "nice": false, "zero": false}, "axis": {"values": [0, 0.2, 0.4, 0.6, 0.8, 1.0], "format": ".1f", "labelOverlap": false, "labelFlush": false, "labelSeparation": -40}},
             "y": {"field": "v", "type": "quantitative", "title": null, "scale": {"domain": [0.51, 5.25], "nice": false, "zero": false}, "axis": {"values": [1, 2, 3, 4, 5], "labelOverlap": false}},
             "color": {"datum": "upperConfidenceBound", "type": "nominal", "scale": {"domain": ["upperConfidenceBound", "next p"], "range": ["#1f77b4", "#00ff00"]},
               "legend": {"orient": "top-left", "offset": 2, "title": null, "symbolType": "stroke"}}
           }},
          {"data": {"values": [{"x": 0.727, "v": 5.0}]}, "mark": {"type": "point", "shape": "triangle-up", "filled": true, "size": 14, "opacity": 1},
           "encoding": {"x": {"field": "x", "type": "quantitative", "title": null}, "y": {"field": "v", "type": "quantitative", "title": null}, "color": {"datum": "next p", "type": "nominal"}}}
        ]
      }
    ],
    "spacing": 8, "bounds": "flush",
    "resolve": {"scale": {"color": "independent", "x": "independent", "y": "independent"}, "legend": {"color": "independent"}}
  },
  {
    "vconcat": [
      {
        "width": 135, "height": 97,
        "title": {"text": "MMDGP-nystrom-100/10", "subtitle": "sc_ls=0.029, sc_os=0.729, noise=0.163"},
        "layer": [
          {"data": {"name": "gp_c"}, "mark": {"type": "area", "clip": true},
           "encoding": {
             "x": {"field": "x", "type": "quantitative", "title": null, "scale": {"domain": [-0.05, 1.05], "nice": false, "zero": false}, "axis": {"values": [0, 0.2, 0.4, 0.6, 0.8, 1.0], "labels": false}},
             "y": {"field": "lo", "type": "quantitative", "title": null, "scale": {"domain": [-2.85, 6.28], "nice": false, "zero": false}, "axis": {"values": [-2, 0, 2, 4, 6], "labelOverlap": false}},
             "y2": {"field": "hi"},
             "color": {"datum": "2std", "type": "nominal", "scale": {"domain": ["2std", "mean", "gt", "samples"], "range": ["#ffd6d6", "#ff5a5a", "#6a6a6a", "#3c3cff"]},
               "legend": {"orient": "none", "legendX": 51, "legendY": 1, "title": null, "symbolType": "stroke"}}
           }},
          {"data": {"name": "gp_c"}, "mark": {"type": "line", "strokeWidth": 1, "clip": true},
           "encoding": {"x": {"field": "x", "type": "quantitative", "title": null}, "y": {"field": "mean", "type": "quantitative", "title": null}, "color": {"datum": "mean", "type": "nominal"}}},
          {"data": {"name": "gt"}, "mark": {"type": "line", "strokeWidth": 0.9, "clip": true, "opacity": 0.9},
           "encoding": {"x": {"field": "x", "type": "quantitative", "title": null}, "y": {"field": "y", "type": "quantitative", "title": null}, "color": {"datum": "gt", "type": "nominal"}}},
          {"data": {"name": "samples"}, "mark": {"type": "point", "shape": "M-1,-1L1,1M-1,1L1,-1", "filled": false, "size": 12, "strokeWidth": 0.8},
           "encoding": {"x": {"field": "x", "type": "quantitative", "title": null}, "y": {"field": "y", "type": "quantitative", "title": null}, "color": {"datum": "samples", "type": "nominal"}}}
        ]
      },
      {
        "width": 135, "height": 96,
        "layer": [
          {"data": {"name": "ucb_d"}, "mark": {"type": "line", "strokeWidth": 1.5, "clip": true},
           "encoding": {
             "x": {"field": "x", "type": "quantitative", "title": null, "scale": {"domain": [-0.05, 1.05], "nice": false, "zero": false}, "axis": {"values": [0, 0.2, 0.4, 0.6, 0.8, 1.0], "format": ".1f", "labelOverlap": false, "labelFlush": false, "labelSeparation": -40}},
             "y": {"field": "v", "type": "quantitative", "title": null, "scale": {"domain": [0.51, 5.25], "nice": false, "zero": false}, "axis": {"values": [1, 2, 3, 4, 5], "labelOverlap": false}},
             "color": {"datum": "upperConfidenceBound", "type": "nominal", "scale": {"domain": ["upperConfidenceBound", "next p"], "range": ["#1f77b4", "#00ff00"]},
               "legend": {"orient": "top-left", "offset": 2, "title": null, "symbolType": "stroke"}}
           }},
          {"data": {"values": [{"x": 0.727, "v": 5.0}]}, "mark": {"type": "point", "shape": "triangle-up", "filled": true, "size": 14, "opacity": 1},
           "encoding": {"x": {"field": "x", "type": "quantitative", "title": null}, "y": {"field": "v", "type": "quantitative", "title": null}, "color": {"datum": "next p", "type": "nominal"}}}
        ]
      }
    ],
    "spacing": 8, "bounds": "flush",
    "resolve": {"scale": {"color": "independent", "x": "independent", "y": "independent"}, "legend": {"color": "independent"}}
  }
 ],
 "spacing": 17,
 "resolve": {"scale": {"color": "independent", "x": "independent", "y": "independent"}, "legend": {"color": "independent"}}
 },
 {
   "width": 652, "height": 1,
   "view": {"stroke": null},
   "data": {"name": "captions"},
   "mark": {"type": "text", "align": "left", "baseline": "top", "font": "Liberation Serif", "fontSize": 17, "color": "#000"},
   "encoding": {
     "x": {"field": "k", "type": "nominal", "sort": null, "bandPosition": 0, "scale": {"type": "band", "domain": ["a", "b", "c", "d"], "paddingInner": 0, "paddingOuter": 0}, "axis": null},
     "text": {"field": "cap"}
   }
 }
],
"spacing": 4,
"resolve": {"scale": {"color": "independent", "x": "independent", "y": "independent"}, "legend": {"color": "independent"}}
}
